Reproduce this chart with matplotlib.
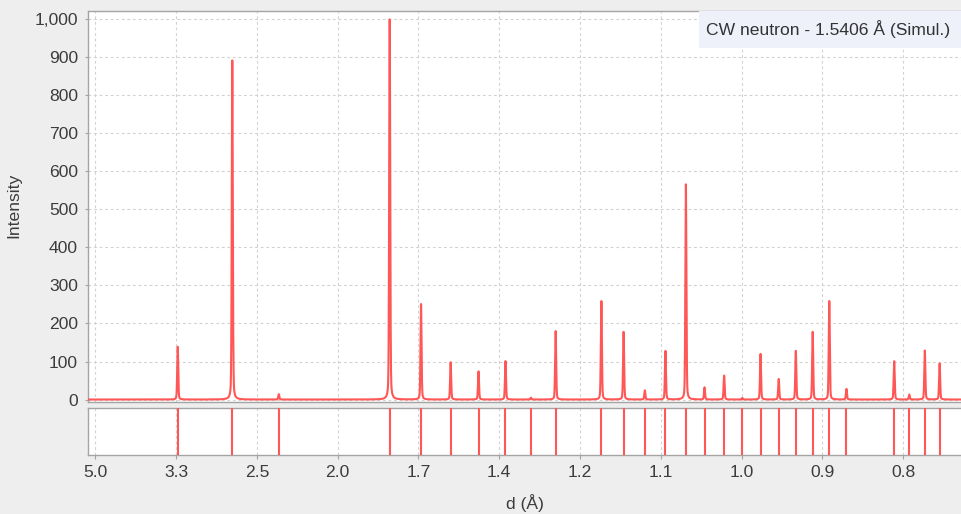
import numpy as np
import matplotlib
matplotlib.use('Agg')
import matplotlib.pyplot as plt
from matplotlib.patches import Rectangle

# ================= DATA =================
# peak d-spacings (Å) and intensities
d_peaks = [3.313, 2.707, 2.342, 1.772, 1.658, 1.563, 1.483, 1.413, 1.353, 1.299,
           1.210, 1.171, 1.136, 1.104, 1.074, 1.048, 1.022, 0.999, 0.977, 0.956,
           0.937, 0.919, 0.902, 0.885, 0.841, 0.828, 0.815, 0.803]
intensity = [139, 892, 14, 1000, 251, 98, 74, 101, 5, 180,
             259, 178, 24, 128, 566, 32, 63, 4, 120, 54,
             128, 178, 259, 28, 101, 13, 129, 95]
y_ticks = [0, 100, 200, 300, 400, 500, 600, 700, 800, 900, 1000]
q_ticks = [0.2, 0.3, 0.4, 0.5, 0.6, 0.7, 0.8, 0.9, 1.0, 1.1, 1.2]   # 1/d positions
legend_text = 'CW neutron - 1.5406 Å (Simul.)'
# =========================================

RED = '#ff5656'
GRID = '#d2d2d2'
FRAME = '#a4a4a4'
TXT = '#3c3c3c'
FS = 12.6

plt.rcParams['font.family'] = ['Liberation Sans', 'DejaVu Sans']

W, H = 961, 514
fig = plt.figure(figsize=(W / 100, H / 100), dpi=100)
fig.patch.set_facecolor('#eeeeee')

left, right = 88.3, 961
q_min, q_max = 0.1911, 1.2718

ax = fig.add_axes([left / W, 1 - 402 / H, (right - left) / W, (402 - 11) / H])
ax2 = fig.add_axes([left / W, 1 - 455 / H, (right - left) / W, (455 - 407.5) / H])

# simulated profile: pseudo-Voigt broadening of each reflection in 1/d
q_peaks = 1.0 / np.array(d_peaks)
q = np.linspace(q_min, q_max, 40000)
hw = 0.00075
eta = 0.3
prof = np.zeros_like(q)
for qi, Ii in zip(q_peaks, intensity):
    x = (q - qi) / hw
    prof += Ii * (eta / (1 + x ** 2) + (1 - eta) * np.exp(-np.log(2) * x ** 2))
ax.plot(q, prof, color=RED, lw=1.5, zorder=3)

# reflection markers in lower strip
ax2.vlines(q_peaks, 0, 1, color=RED, lw=1.5, zorder=3)

for a in (ax, ax2):
    a.set_facecolor('white')
    a.set_xlim(q_min, q_max)
    a.set_xticks(q_ticks)
    a.grid(True, axis='x', color=GRID, ls=(0, (2.5, 2.5)), lw=0.8)
    a.set_axisbelow(True)
    a.spines['right'].set_visible(False)
    for s in ('left', 'top', 'bottom'):
        a.spines[s].set_color(FRAME)
        a.spines[s].set_linewidth(1.0)

ax.set_ylim(-6.5, 1022)
ax.set_yticks(y_ticks)
ax.set_yticklabels([f'{v:,}' for v in y_ticks])
ax.grid(True, axis='y', color=GRID, ls=(0, (2.5, 2.5)), lw=0.8)
ax.tick_params(axis='x', length=0, labelbottom=False)
ax.tick_params(axis='y', length=2.2, width=0.8, color=FRAME, pad=5.2,
               labelsize=FS, labelcolor=TXT)

ax2.set_ylim(0, 1)
ax2.set_yticks([])
ax2.set_xticklabels([f'{1 / v:.1f}' for v in q_ticks])
ax2.tick_params(axis='x', length=3, width=0.8, color=FRAME, pad=4,
                labelsize=FS, labelcolor=TXT)

fig.text(14 / W, 1 - 205 / H, 'Intensity', rotation=90, ha='center', va='center',
         fontsize=FS, color=TXT)
fig.text(524.5 / W, 1 - 503 / H, 'd (Å)', ha='center', va='center',
         fontsize=FS, color=TXT)

# series label box, top right
fig.patches.append(Rectangle((699 / W, 1 - 48 / H), (962 - 699) / W, 37 / H,
                             transform=fig.transFigure, facecolor='#eef0fa',
                             edgecolor='none', zorder=5))
fig.text(706 / W, 1 - 29.5 / H, legend_text, ha='left', va='center',
         fontsize=FS, color='#333333', zorder=6)

fig.savefig('out.png', dpi=100, facecolor=fig.get_facecolor())
